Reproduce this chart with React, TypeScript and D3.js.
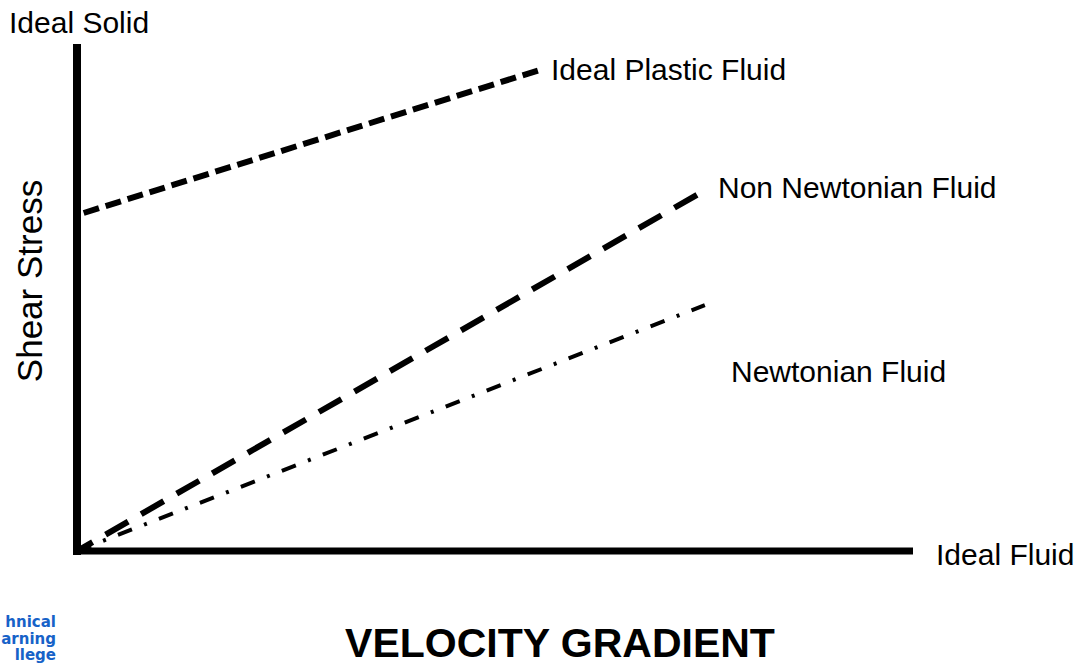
import React, { useEffect, useRef } from 'react';
import * as d3 from 'd3';

// curve end points, in chart units (0..10 on both axes)
const plasticFluid = [[0.08, 6.68], [5.56, 9.52]];
const nonNewtonianFluid = [[0, 0], [7.48, 7.1]];
const newtonianFluid = [[0, 0], [7.51, 4.86]];

const curveLabels = ['Ideal Plastic Fluid', 'Non Newtonian Fluid', 'Newtonian Fluid'];
const axisLabels = ['Ideal Solid', 'Ideal Fluid', 'Shear Stress', 'VELOCITY GRADIENT'];
// only the visible part of the logo (the rest is off the left edge)
const logoLines = ['hnical', 'arning', 'llege'];

const W = 1086;
const H = 665;
const FONT = '"Liberation Sans", Arial, sans-serif';

export default function App() {
  const ref = useRef<SVGSVGElement>(null);

  useEffect(() => {
    const svg = d3.select(ref.current);
    svg.selectAll('*').remove();

    const x = d3.scaleLinear().domain([0, 10]).range([77, 913]);
    const y = d3.scaleLinear().domain([0, 10]).range([551, 45]);

    const line = d3.line<number[]>()
      .x(d => x(d[0]))
      .y(d => y(d[1]));

    // axes
    svg.append('line')
      .attr('x1', x(0)).attr('x2', x(0))
      .attr('y1', y(10) - 1).attr('y2', y(0) + 4)
      .attr('stroke', '#000').attr('stroke-width', 8);
    svg.append('line')
      .attr('x1', x(0) - 4).attr('x2', x(10))
      .attr('y1', y(0)).attr('y2', y(0))
      .attr('stroke', '#000').attr('stroke-width', 7);

    // curves
    svg.append('path')
      .attr('d', line(plasticFluid))
      .attr('fill', 'none').attr('stroke', '#000')
      .attr('stroke-width', 6).attr('stroke-dasharray', '16 7');
    svg.append('path')
      .attr('d', line(nonNewtonianFluid))
      .attr('fill', 'none').attr('stroke', '#000')
      .attr('stroke-width', 6).attr('stroke-dasharray', '26 15')
      .attr('stroke-dashoffset', 8);
    svg.append('path')
      .attr('d', line(newtonianFluid))
      .attr('fill', 'none').attr('stroke', '#000')
      .attr('stroke-width', 4).attr('stroke-dasharray', '15 13 3 13');

    const text = (s: string, tx: number, ty: number, size: number) =>
      svg.append('text')
        .attr('x', tx).attr('y', ty)
        .attr('font-family', FONT)
        .attr('font-size', size)
        .attr('fill', '#000')
        .text(s);

    text(curveLabels[0], 551, 80, 30);
    text(curveLabels[1], 718, 198, 30);
    text(curveLabels[2], 731, 382, 30);

    text(axisLabels[0], 9, 33, 30);
    text(axisLabels[1], 936, 565, 30);

    svg.append('text')
      .attr('transform', 'translate(42,281) rotate(-90)')
      .attr('text-anchor', 'middle')
      .attr('font-family', FONT)
      .attr('font-size', 35)
      .text(axisLabels[2]);

    svg.append('text')
      .attr('x', 560).attr('y', 657)
      .attr('text-anchor', 'middle')
      .attr('font-family', FONT)
      .attr('font-size', 41)
      .attr('font-weight', 'bold')
      .text(axisLabels[3]);

    // logo
    svg.selectAll('text.logo')
      .data(logoLines)
      .enter()
      .append('text')
      .attr('class', 'logo')
      .attr('x', 56)
      .attr('y', (d, i) => 627 + i * 16.5)
      .attr('text-anchor', 'end')
      .attr('font-family', '"DejaVu Sans", Verdana, sans-serif')
      .attr('font-size', 15)
      .attr('font-weight', 'bold')
      .attr('fill', '#1762c8')
      .text(d => d);
  }, []);

  return (
    <svg
      ref={ref}
      width={W}
      height={H}
      style={{ position: 'absolute', left: 0, top: 0, background: '#fff' }}
    />
  );
}
